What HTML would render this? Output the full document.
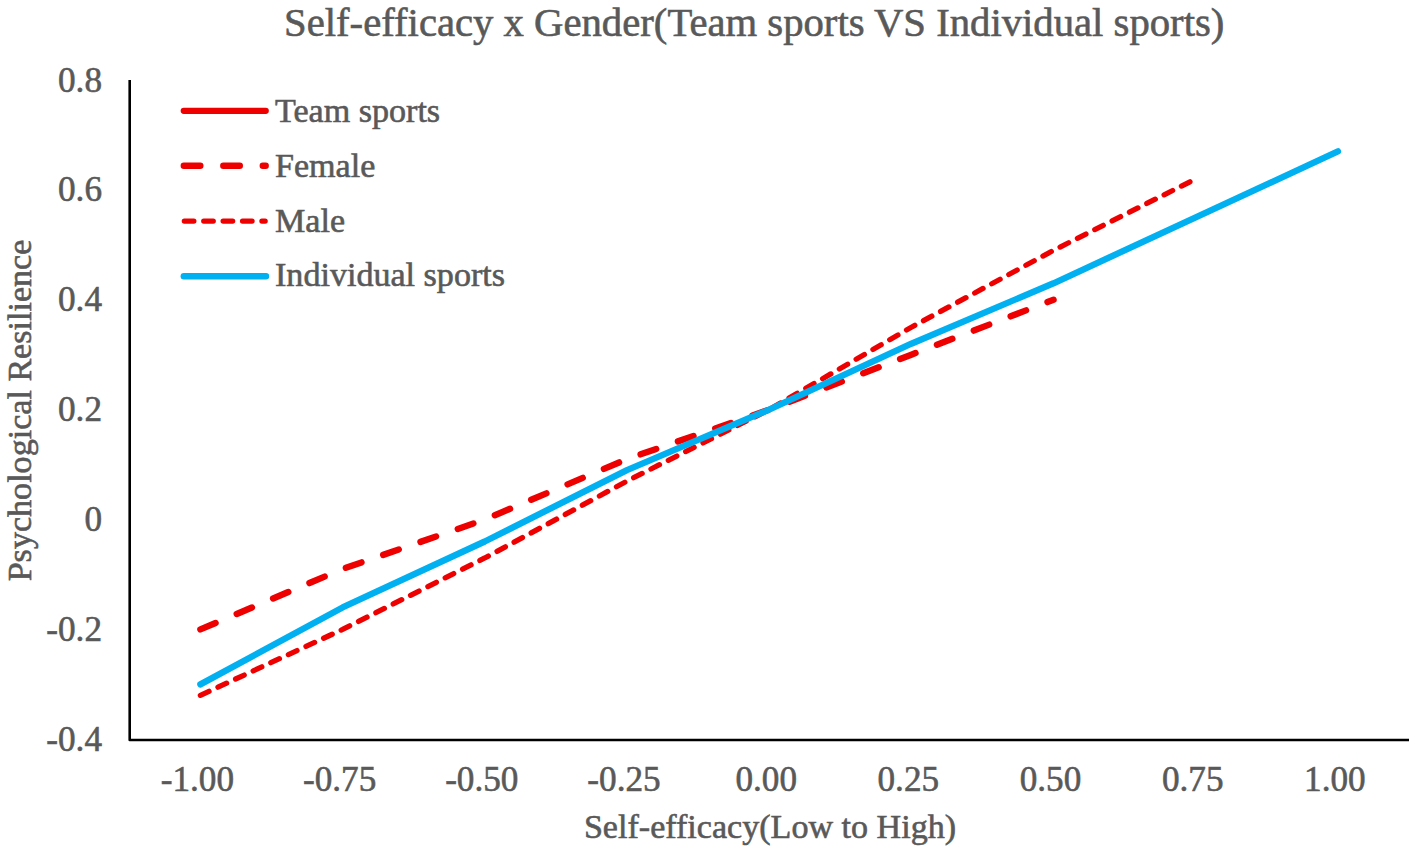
<!DOCTYPE html>
<html><head><meta charset="utf-8"><style>
html,body{margin:0;padding:0;background:#fff;}
body{width:1417px;height:854px;overflow:hidden;}
svg{display:block;}
text{font-family:"Liberation Serif",serif;fill:#595959;stroke:#595959;stroke-width:0.6px;}
.t{font-size:40.7px;}
.l{font-size:35.2px;}
.a{font-size:34.1px;}
.g{font-size:34.1px;}
</style></head><body>
<svg width="1417" height="854" viewBox="0 0 1417 854">
<text x="754.2" y="36" text-anchor="middle" class="t">Self-efficacy x Gender(Team sports VS Individual sports)</text>
<text x="102" y="91.5" text-anchor="end" class="l">0.8</text>
<text x="102" y="201.4" text-anchor="end" class="l">0.6</text>
<text x="102" y="311.3" text-anchor="end" class="l">0.4</text>
<text x="102" y="421.1" text-anchor="end" class="l">0.2</text>
<text x="102" y="531.0" text-anchor="end" class="l">0</text>
<text x="102" y="640.9" text-anchor="end" class="l">-0.2</text>
<text x="102" y="750.8" text-anchor="end" class="l">-0.4</text>
<text x="197.4" y="791" text-anchor="middle" class="l">-1.00</text>
<text x="339.6" y="791" text-anchor="middle" class="l">-0.75</text>
<text x="481.8" y="791" text-anchor="middle" class="l">-0.50</text>
<text x="624.0" y="791" text-anchor="middle" class="l">-0.25</text>
<text x="766.2" y="791" text-anchor="middle" class="l">0.00</text>
<text x="908.3" y="791" text-anchor="middle" class="l">0.25</text>
<text x="1050.5" y="791" text-anchor="middle" class="l">0.50</text>
<text x="1192.7" y="791" text-anchor="middle" class="l">0.75</text>
<text x="1334.9" y="791" text-anchor="middle" class="l">1.00</text>
<text transform="translate(30.5,410.5) rotate(-90)" text-anchor="middle" class="a">Psychological Resilience</text>
<text x="770" y="838" text-anchor="middle" class="a">Self-efficacy(Low to High)</text>
<path d="M129.7,80 V740 H1409" fill="none" stroke="#000" stroke-width="2.6" stroke-linejoin="round"/>
<polyline points="200.39,629.42 342.58,568.98 484.77,519.53 626.96,459.10 769.15,409.65 911.34,354.71 1053.53,299.77" fill="none" stroke="#EE0000" stroke-width="6.4" stroke-linecap="round" stroke-linejoin="round" stroke-dasharray="16.5 23"/>
<polyline points="200.39,695.35 342.58,629.42 484.77,557.99 626.96,481.07 769.15,409.65 911.34,327.24 1053.53,250.32 1195.72,178.89" fill="none" stroke="#EE0000" stroke-width="5.3" stroke-linecap="round" stroke-linejoin="round" stroke-dasharray="9.5 9.9"/>
<polyline points="200.39,684.36 342.58,607.44 484.77,541.51 626.96,470.09 769.15,409.65 911.34,343.72 1053.53,283.28 1195.72,217.35 1337.91,151.42" fill="none" stroke="#00B0F0" stroke-width="6.4" stroke-linecap="round" stroke-linejoin="round"/>
<path d="M183.8,110.8 H265.7" stroke="#EE0000" stroke-width="6.3" stroke-linecap="round"/>
<text x="275" y="122.2" class="g">Team sports</text>
<path d="M183.8,165.7 H265.7" stroke="#EE0000" stroke-width="6.4" stroke-linecap="round" stroke-dasharray="16.5 23"/>
<text x="275" y="176.9" class="g">Female</text>
<path d="M184.35,221.1 H265.15" stroke="#EE0000" stroke-width="5.3" stroke-linecap="round" stroke-dasharray="9.5 9.9"/>
<text x="275" y="231.6" class="g">Male</text>
<path d="M183.8,276.2 H266.0" stroke="#00B0F0" stroke-width="6.4" stroke-linecap="round"/>
<text x="275" y="286.3" class="g">Individual sports</text>
</svg>
</body></html>
